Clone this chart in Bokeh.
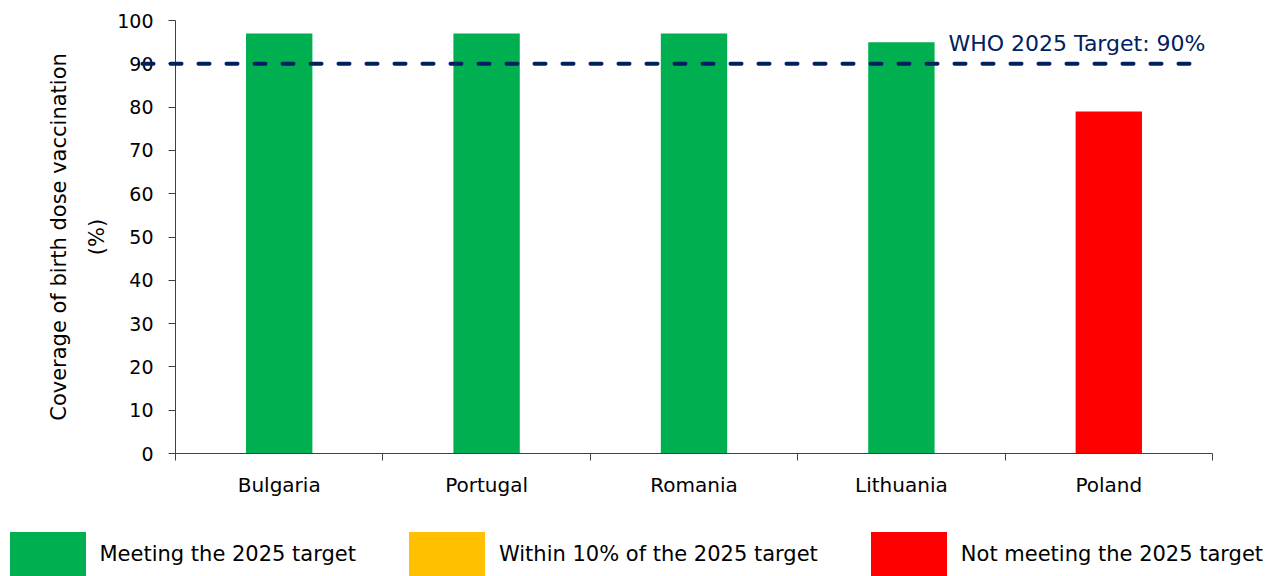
from bokeh.plotting import figure
from bokeh.models import Range1d, FixedTicker, Legend, LegendItem, Label, ColumnDataSource
from bokeh.embed import file_html
from bokeh.resources import INLINE

# ---------------- data ----------------
countries = ["Bulgaria", "Portugal", "Romania", "Lithuania", "Poland"]
coverage = [97, 97, 97, 95, 79]
target = 90
y_ticks = [0, 10, 20, 30, 40, 50, 60, 70, 80, 90, 100]
status_labels = ["Meeting the 2025 target", "Within 10% of the 2025 target",
                 "Not meeting the 2025 target"]
status_colors = ["#00B050", "#FFC000", "#FF0000"]
y_label = "Coverage of birth dose vaccination\n(%)"

# ---------------- styling / layout (pixels) ----------------
FONT = "DejaVu Sans"
AXIS_COLOR = "#404040"
TARGET_COLOR = "#002060"
W, H = 1278, 576
AX_LEFT, AX_RIGHT, AX_TOP, AX_BOTTOM = 175, 1212, 20, 453
LINE_LEFT_PX, LINE_RIGHT_PX = 142, 1193
TARGET_LABEL_PX = 948
Y_MAX = 100

n = len(countries)
x_pos = [i + 0.5 for i in range(n)]
ux = (AX_RIGHT - AX_LEFT) / n
uy = (AX_BOTTOM - AX_TOP) / Y_MAX
x_range = Range1d(-AX_LEFT / ux, (W - AX_LEFT) / ux)
y_range = Range1d(-(H - AX_BOTTOM) / uy, Y_MAX + AX_TOP / uy)

p = figure(width=W, height=H, output_backend="svg", toolbar_location=None,
           x_range=x_range, y_range=y_range, min_border=0)
p.outline_line_color = None
p.grid.visible = False
p.background_fill_color = "white"
p.border_fill_color = "white"


def status_of(v):
    if v >= target:
        return 0
    if v >= target * 0.9:
        return 1
    return 2


renderers = []
for k, col in enumerate(status_colors):
    idx = [i for i, v in enumerate(coverage) if status_of(v) == k]
    xs = [x_pos[i] for i in idx]
    tops = [coverage[i] for i in idx]
    if not idx:  # keep a (non-drawn) placeholder so the legend swatch is rendered
        xs, tops = [float("nan")], [float("nan")]
    src = ColumnDataSource(dict(x=xs, top=tops))
    r = p.vbar(x="x", top="top", bottom=0, width=0.32, source=src,
               fill_color=col, line_color=None)
    renderers.append(r)

# y axis
ya = p.yaxis[0]
ya.fixed_location = 0
ya.bounds = (0, Y_MAX)
ya.ticker = FixedTicker(ticks=y_ticks)
ya.major_tick_out = 7
ya.major_tick_in = 0
ya.minor_tick_out = 0
ya.minor_tick_in = 0
ya.axis_line_color = AXIS_COLOR
ya.major_tick_line_color = AXIS_COLOR
ya.major_label_text_font = FONT
ya.major_label_text_font_size = "19px"
ya.major_label_text_color = "black"
ya.major_label_standoff = 15
ya.axis_label = y_label
ya.axis_label_text_font = FONT
ya.axis_label_text_font_size = "21px"
ya.axis_label_text_font_style = "normal"
ya.axis_label_text_color = "black"
ya.axis_label_text_line_height = 1.6
ya.axis_label_standoff = 5

# x axis
xa = p.xaxis[0]
xa.fixed_location = 0
xa.bounds = (0, n)
xa.ticker = FixedTicker(ticks=x_pos, minor_ticks=list(range(n + 1)))
xa.major_label_overrides = {x: c for x, c in zip(x_pos, countries)}
xa.major_tick_out = 0
xa.major_tick_in = 0
xa.minor_tick_out = 7
xa.minor_tick_in = 0
xa.axis_line_color = AXIS_COLOR
xa.minor_tick_line_color = AXIS_COLOR
xa.major_label_text_font = FONT
xa.major_label_text_font_size = "20px"
xa.major_label_text_color = "black"
xa.major_label_standoff = 12

# target line (drawn over bars and axis labels)
tl = p.segment(x0=[(LINE_LEFT_PX - AX_LEFT) / ux], y0=[target],
               x1=[(LINE_RIGHT_PX - AX_LEFT) / ux], y1=[target],
               line_color=TARGET_COLOR, line_width=4, line_dash="11 17",
               line_cap="round")
tl.level = "overlay"

p.add_layout(Label(x=(TARGET_LABEL_PX - AX_LEFT) / ux, y=target, y_offset=20,
                   text=f"WHO 2025 Target: {target}%",
                   text_font=FONT, text_font_size="22px",
                   text_color=TARGET_COLOR, text_baseline="alphabetic"))

# legend
items = [LegendItem(label=lab, renderers=[r]) for lab, r in zip(status_labels, renderers)]
legend = Legend(items=items, orientation="horizontal", location=(-0.5, -5.5),
                glyph_width=95, glyph_height=56, label_standoff=5, spacing=43,
                padding=0, margin=0, border_line_alpha=0, background_fill_alpha=0,
                label_text_font=FONT, label_text_font_size="21px",
                label_text_color="black", label_text_baseline="middle")
p.add_layout(legend)

open("out.html", "w").write(file_html(p, INLINE))
